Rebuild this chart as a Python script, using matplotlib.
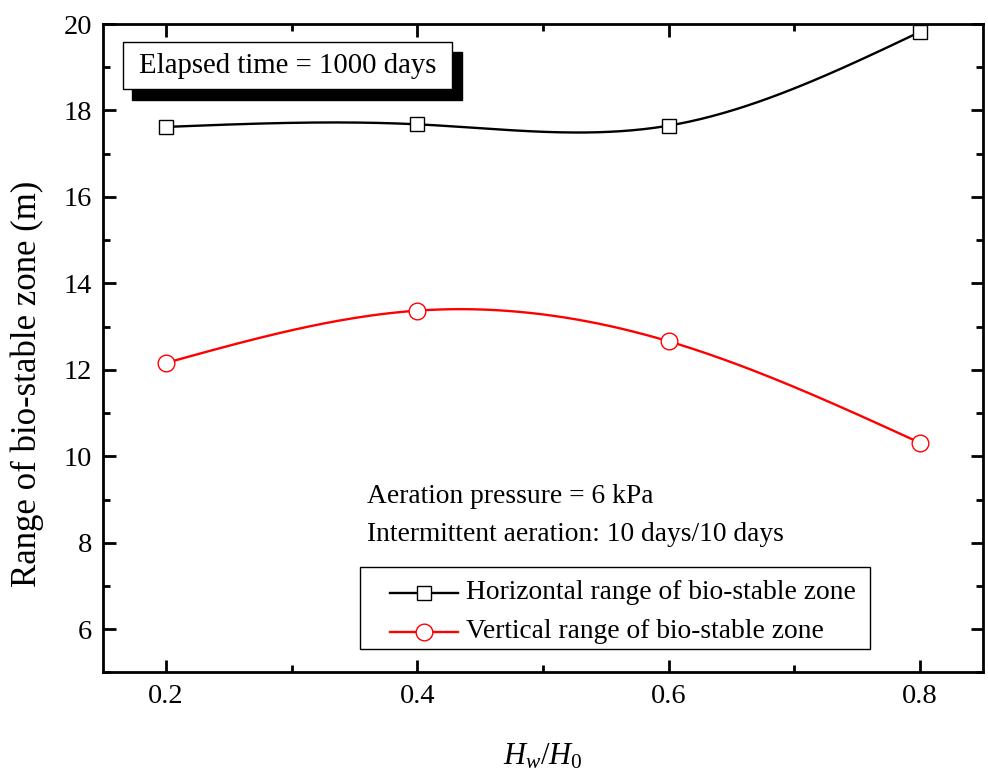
import numpy as np
import matplotlib.pyplot as plt
from matplotlib.patches import Rectangle
from matplotlib.lines import Line2D
from matplotlib.ticker import MultipleLocator

plt.rcParams['font.family'] = ['Liberation Serif', 'DejaVu Serif']
plt.rcParams['mathtext.fontset'] = 'custom'
plt.rcParams['mathtext.rm'] = 'Liberation Serif'
plt.rcParams['mathtext.it'] = 'Liberation Serif:italic'

# data
hw_ratio = [0.2, 0.4, 0.6, 0.8]
horizontal_range = [17.62, 17.68, 17.65, 19.82]
vertical_range = [12.16, 13.37, 12.66, 10.31]
series_names = ['Horizontal range of bio-stable zone', 'Vertical range of bio-stable zone']


def natural_spline(x, y, n=200):
    # natural cubic spline through the points (like Origin's spline connect)
    x = np.asarray(x, float)
    y = np.asarray(y, float)
    k = len(x)
    h = np.diff(x)
    A = np.zeros((k, k))
    b = np.zeros(k)
    A[0, 0] = A[-1, -1] = 1
    for i in range(1, k - 1):
        A[i, i - 1] = h[i - 1]
        A[i, i] = 2 * (h[i - 1] + h[i])
        A[i, i + 1] = h[i]
        b[i] = 6 * ((y[i + 1] - y[i]) / h[i] - (y[i] - y[i - 1]) / h[i - 1])
    M = np.linalg.solve(A, b)
    xs = np.linspace(x[0], x[-1], n)
    idx = np.clip(np.searchsorted(x, xs) - 1, 0, k - 2)
    x0, x1 = x[idx], x[idx + 1]
    hh = x1 - x0
    t0, t1 = x1 - xs, xs - x0
    ys = (M[idx] * t0 ** 3 + M[idx + 1] * t1 ** 3) / (6 * hh) \
        + (y[idx] / hh - M[idx] * hh / 6) * t0 \
        + (y[idx + 1] / hh - M[idx + 1] * hh / 6) * t1
    return xs, ys


fig = plt.figure(figsize=(9.88, 7.75), dpi=100)
ax = fig.add_axes([0.1043, 0.1323, 0.8907, 0.8367])

styles = [dict(color='black', marker='s', ms=9.5), dict(color='red', marker='o', ms=12)]

for yv, st in zip([horizontal_range, vertical_range], styles):
    xs, ys = natural_spline(hw_ratio, yv)
    ax.plot(xs, ys, color=st['color'], lw=1.7, zorder=2)
    ax.plot(hw_ratio, yv, ls='none', marker=st['marker'], ms=st['ms'], mfc='white',
            mec=st['color'], mew=1.0, zorder=3)

ax.set_xlim(0.15, 0.85)
ax.set_ylim(5, 20)
ax.xaxis.set_minor_locator(MultipleLocator(0.1))
ax.yaxis.set_minor_locator(MultipleLocator(1))
ax.set_xticks([0.2, 0.4, 0.6, 0.8])
ax.set_xticklabels(['0.2', '0.4', '0.6', '0.8'])
ax.set_yticks([6, 8, 10, 12, 14, 16, 18, 20])
ax.tick_params(which='both', direction='in', top=True, right=True, labelsize=20.5, width=2)
ax.tick_params(which='major', length=9, pad=8)
ax.tick_params(which='minor', length=5)
for s in ax.spines.values():
    s.set_linewidth(2)

ax.set_ylabel('Range of bio-stable zone (m)', fontsize=25, va='center')
ax.yaxis.set_label_coords(-0.0858, 0.4456)
ax.set_xlabel(r'$H_w/H_0$', fontsize=22, labelpad=24)

# elapsed time box with shadow
ax.add_patch(Rectangle((0.033, 0.8828), 0.375, 0.074, transform=ax.transAxes,
                       facecolor='black', edgecolor='black', zorder=4))
ax.add_patch(Rectangle((0.0227, 0.8998), 0.374, 0.0724, transform=ax.transAxes,
                       facecolor='white', edgecolor='black', lw=1.0, zorder=5))
ax.text(0.2097, 0.936, 'Elapsed time = 1000 days', transform=ax.transAxes,
        ha='center', va='center', fontsize=20.7, zorder=6)

ax.text(0.3, 0.272, 'Aeration pressure = 6 kPa', transform=ax.transAxes,
        ha='left', va='center', fontsize=19.8)
ax.text(0.3, 0.212, 'Intermittent aeration: 10 days/10 days', transform=ax.transAxes,
        ha='left', va='center', fontsize=19.8)

# legend drawn like Origin's: framed box, line+marker handles
ax.add_patch(Rectangle((0.292, 0.0362), 0.5796, 0.1265, transform=ax.transAxes,
                       facecolor='white', edgecolor='black', lw=1.0, zorder=4))
for row_y, name, st in zip([0.1226, 0.0625], series_names, styles):
    ax.add_line(Line2D([0.326, 0.4034], [row_y, row_y], transform=ax.transAxes,
                       color=st['color'], lw=1.7, zorder=5))
    ax.add_line(Line2D([0.3648], [row_y], transform=ax.transAxes, ls='none',
                       marker=st['marker'], ms=st['ms'], mfc='white', mec=st['color'],
                       mew=1.0, zorder=6))
    ax.text(0.4125, row_y, name, transform=ax.transAxes, ha='left', va='center',
            fontsize=19.8, zorder=6)

plt.savefig('out.png', dpi=100)
